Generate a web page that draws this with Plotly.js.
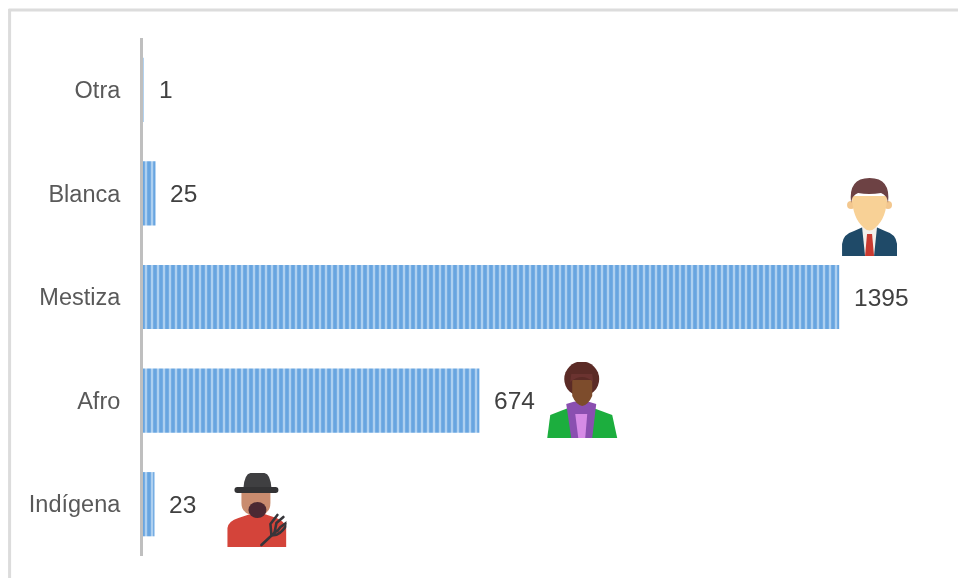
<!DOCTYPE html>
<html>
<head>
<meta charset="utf-8">
<script src="https://cdn.plot.ly/plotly-3.0.1.min.js"></script>
<style>html,body{margin:0;padding:0;background:#fff;overflow:hidden}#chart{width:958px;height:578px;filter:blur(0.4px)}</style>
</head>
<body>
<div id="chart"></div>
<script>
const categories = ["Otra", "Blanca", "Mestiza", "Afro", "Indígena"];
const values = [1, 25, 1395, 674, 23];

const W = 958, H = 578;
const M = {l: 142.5, r: 18, t: 38, b: 22};
const pw = W - M.l - M.r, ph = H - M.t - M.b;
const px = x => (x - M.l) / pw;
const py = y => 1 - (y - M.t) / ph;
const uri = s => "data:image/svg+xml;base64," + btoa(s);

const man = `<svg xmlns="http://www.w3.org/2000/svg" viewBox="0 0 55 78" width="220" height="312">
<path d="M0 78 V66 Q1 56 12 53 L21 49 H34 L43 53 Q54 56 55 66 V78Z" fill="#1f4a68"/>
<path d="M20 49 H35 L32 78 H23Z" fill="#f4efea"/>
<path d="M25 56 H30 L32 78 H23Z" fill="#c93a30"/>
<circle cx="9" cy="27" r="4" fill="#f3c78e"/><circle cx="46" cy="27" r="4" fill="#f3c78e"/>
<path d="M10 18 Q10 40 22 50 Q27.5 55 33 50 Q45 40 45 18Z" fill="#f8d196"/>
<path d="M9 25 Q6 0 27.5 0 Q49 0 46 25 Q45 17 39 15 Q27 17 16 15 Q10 17 9 25Z" fill="#6d4244"/>
</svg>`;

const woman = `<svg xmlns="http://www.w3.org/2000/svg" viewBox="0 0 72 76" width="288" height="304">
<path d="M1 76 L4 53 L22 46 H47 L66 53 L71 76Z" fill="#1cae3e"/>
<path d="M20 42 Q35 36 50 42 L46 76 H25Z" fill="#8a4fb0"/>
<path d="M29 52 H41 L39 76 H32Z" fill="#d68be6"/>
<circle cx="35.5" cy="17" r="17.5" fill="#5b2b26"/>
<path d="M26 18 H46 V34 Q42 43 36 44 Q30 43 26 34Z" fill="#7d4c2c"/>
<path d="M24 20 Q36 10 47 20 L46 12 H25Z" fill="#6b3330"/>
</svg>`;

const farmer = `<svg xmlns="http://www.w3.org/2000/svg" viewBox="0 0 60 74" width="240" height="296">
<path d="M1 74 V55 Q2 48 12 45 L24 41 H38 L50 45 Q58 48 60 55 V74Z" fill="#d4443a"/>
<path d="M15 19 H44 V30 Q44 42 30 43 Q15 42 15 30Z" fill="#c98c6f"/>
<ellipse cx="31" cy="37" rx="9" ry="8" fill="#4b2933"/>
<path d="M17 15 Q18 1 24 0 H38 Q44 1 45 15Z" fill="#3f3f41"/>
<rect x="8" y="14" width="44" height="6" rx="3" fill="#333335"/>
<g fill="none" stroke="#37353a" stroke-width="2.6" stroke-linecap="round" stroke-linejoin="round">
<path d="M35 72 L50 58"/>
<path d="M45 62 L44 51 L51 42"/>
<path d="M48 60 L50 50 L57 44"/>
<path d="M51 58 L54 54 L61 49"/>
<path d="M45 62 Q53 64 61 51"/>
</g>
</svg>`;

const icon = (src, x0, y0, x1, y1) => ({
  source: uri(src), xref: "paper", yref: "paper", x: px(x0), y: py(y0),
  sizex: (x1 - x0) / pw, sizey: (y1 - y0) / ph, xanchor: "left", yanchor: "top",
  sizing: "stretch", layer: "above"
});

const frame = {color: "#dcdcdc", width: 3};

Plotly.newPlot("chart", [{
  type: "bar",
  orientation: "h",
  y: categories,
  x: values,
  hoverinfo: "none",
  marker: {
    color: "#6fa8dc",
    line: {width: 0},
    pattern: {shape: "|", bgcolor: "#68a5e0", fgcolor: "#aed0f0", size: 6, solidity: 0.4, fillmode: "replace"}
  }
}], {
  width: W, height: H,
  margin: M,
  paper_bgcolor: "#fff",
  plot_bgcolor: "#fff",
  showlegend: false,
  bargap: 0.38,
  font: {family: "Liberation Sans, Arial, sans-serif"},
  xaxis: {range: [0, 1597], visible: false, fixedrange: true},
  yaxis: {
    type: "category",
    categoryorder: "array",
    categoryarray: categories,
    autorange: false,
    range: [4.5, -0.5],
    showline: true, linecolor: "#bfbfbf", linewidth: 3,
    showgrid: false, zeroline: false,
    ticks: "outside", ticklen: 15, tickcolor: "rgba(0,0,0,0)",
    tickfont: {size: 23.5, color: "#595959"},
    fixedrange: true
  },
  annotations: categories.map((c, i) => ({
    x: values[i], y: c, xref: "x", yref: "y",
    text: String(values[i]), showarrow: false,
    xanchor: "left", xshift: 13,
    font: {size: 24.5, color: "#404040"}
  })),
  shapes: [
    {type: "line", xref: "paper", yref: "paper", x0: px(8), x1: px(958), y0: py(10), y1: py(10), line: frame},
    {type: "line", xref: "paper", yref: "paper", x0: px(9), x1: px(9), y0: py(9), y1: py(578), line: frame}
  ],
  images: [
    icon(man, 842, 178, 897, 256),
    icon(woman, 546, 362, 618, 438),
    icon(farmer, 226, 473, 286, 547)
  ]
}, {displayModeBar: false, staticPlot: true});
</script>
</body>
</html>
